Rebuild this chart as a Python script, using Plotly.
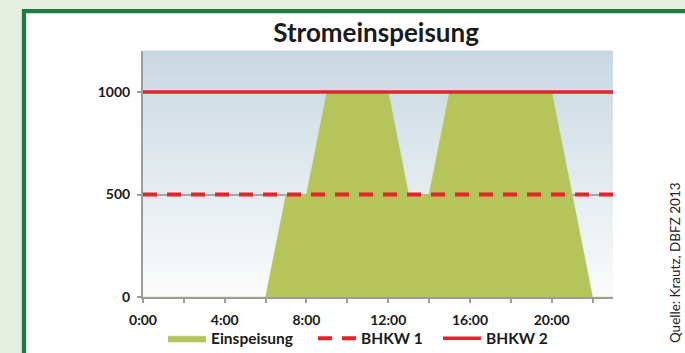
import plotly.graph_objects as go

# ---- data ----
HOURS = list(range(24))
EINSPEISUNG = [0, 0, 0, 0, 0, 0, 0, 500, 500, 1000, 1000, 1000,
               1000, 500, 500, 1000, 1000, 1000, 1000, 1000, 1000, 500, 0, 0]
BHKW1 = [500] * 24
BHKW2 = [1000] * 24
TICK_HOURS = list(range(0, 24, 2))
TICK_LABELS = [f"{h}:00" if h % 4 == 0 else "" for h in TICK_HOURS]
Y_TICKS = [0, 500, 1000]
SERIES_NAMES = ["Einspeisung", "BHKW 1", "BHKW 2"]
TITLE = "Stromeinspeisung"
SOURCE = "Quelle: Krautz, DBFZ 2013"

FONT = "Lato"
GREEN = "#b5c55b"
RED = "#e52329"
AXIS_GRAY = "#9d9d9d"
OUTER_BG = "#e6efdf"
TXT = "#1a1a1a"

fig = go.Figure()

fig.add_trace(go.Scatter(x=HOURS, y=EINSPEISUNG, name=SERIES_NAMES[0], mode="lines",
                         fill="tozeroy", fillcolor=GREEN, legend="legend",
                         line=dict(color=GREEN, width=0.5)))
fig.add_trace(go.Scatter(x=HOURS, y=BHKW1, name=SERIES_NAMES[1], mode="lines",
                         legend="legend2",
                         line=dict(color=RED, width=4, dash="14px,10px")))
fig.add_trace(go.Scatter(x=HOURS, y=BHKW2, name=SERIES_NAMES[2], mode="lines",
                         legend="legend3",
                         line=dict(color=RED, width=3.5)))

# green frame of the panel
shapes = [dict(type="rect", xref="paper", yref="paper", layer="below",
               x0=-0.2532, x1=1.4, y0=-0.6, y1=1.162,
               line=dict(color="#1f7b46", width=4.3), fillcolor="white")]

# vertical gradient background in the plot area
N = 60
top = (0xc8, 0xd8, 0xe2)
bot = (0xfb, 0xfb, 0xfb)
for i in range(N):
    t = (i + 0.5) / N
    c = tuple(round(bot[k] + (top[k] - bot[k]) * t) for k in range(3))
    shapes.append(dict(type="rect", xref="x domain", yref="y domain", layer="below",
                       x0=0, x1=1, y0=i / N, y1=(i + 1) / N + 0.002,
                       line=dict(width=0), fillcolor="rgb(%d,%d,%d)" % c))

PLOT_L, PLOT_W = 143, 470


def legend_at(px_left):
    return dict(orientation="h", x=(px_left - PLOT_L) / PLOT_W, xanchor="left",
                y=-0.169, yanchor="middle", itemwidth=38,
                font=dict(family=FONT, size=15.5, color=TXT, weight="bold"),
                bgcolor="rgba(0,0,0,0)", itemclick=False, itemdoubleclick=False)


fig.update_layout(
    width=685, height=353,
    margin=dict(l=PLOT_L, r=72, t=51, b=56, autoexpand=False),
    paper_bgcolor=OUTER_BG,
    plot_bgcolor="white",
    shapes=shapes,
    title=dict(text=TITLE, x=0.549, xanchor="center", y=1 - 33 / 353, yanchor="middle",
               font=dict(family=FONT, size=26, color=TXT, weight="bold")),
    showlegend=True,
    legend=legend_at(163),
    legend2=legend_at(313),
    legend3=legend_at(438),
    annotations=[dict(text=SOURCE, xref="paper", yref="paper", x=1.132, y=0.138,
                      xanchor="center", yanchor="middle", textangle=-90, showarrow=False,
                      font=dict(family=FONT, size=13.5, color="#222"))],
)

fig.update_xaxes(range=[0, 23], showgrid=False, zeroline=False,
                 showline=True, linecolor=AXIS_GRAY, linewidth=2,
                 tickmode="array", tickvals=TICK_HOURS, ticktext=TICK_LABELS,
                 ticks="outside", ticklen=4, tickwidth=1.5, tickcolor=AXIS_GRAY,
                 ticklabelstandoff=5,
                 tickfont=dict(family=FONT, size=14, color=TXT, weight="bold"))
fig.update_yaxes(range=[0, 1200], showgrid=True, gridcolor="#a6a6a6", gridwidth=1.5,
                 zeroline=False, showline=True, linecolor=AXIS_GRAY, linewidth=2,
                 tickmode="array", tickvals=Y_TICKS,
                 ticks="outside", ticklen=4, tickwidth=1.5, tickcolor=AXIS_GRAY,
                 ticklabelstandoff=4,
                 tickfont=dict(family=FONT, size=14, color=TXT, weight="bold"))

fig.write_html("out.html",
               config={"displayModeBar": False},
               post_script="document.body.style.margin='0';"
                           "document.body.style.background='%s';"
                           "document.body.style.overflow='hidden';" % OUTER_BG)
